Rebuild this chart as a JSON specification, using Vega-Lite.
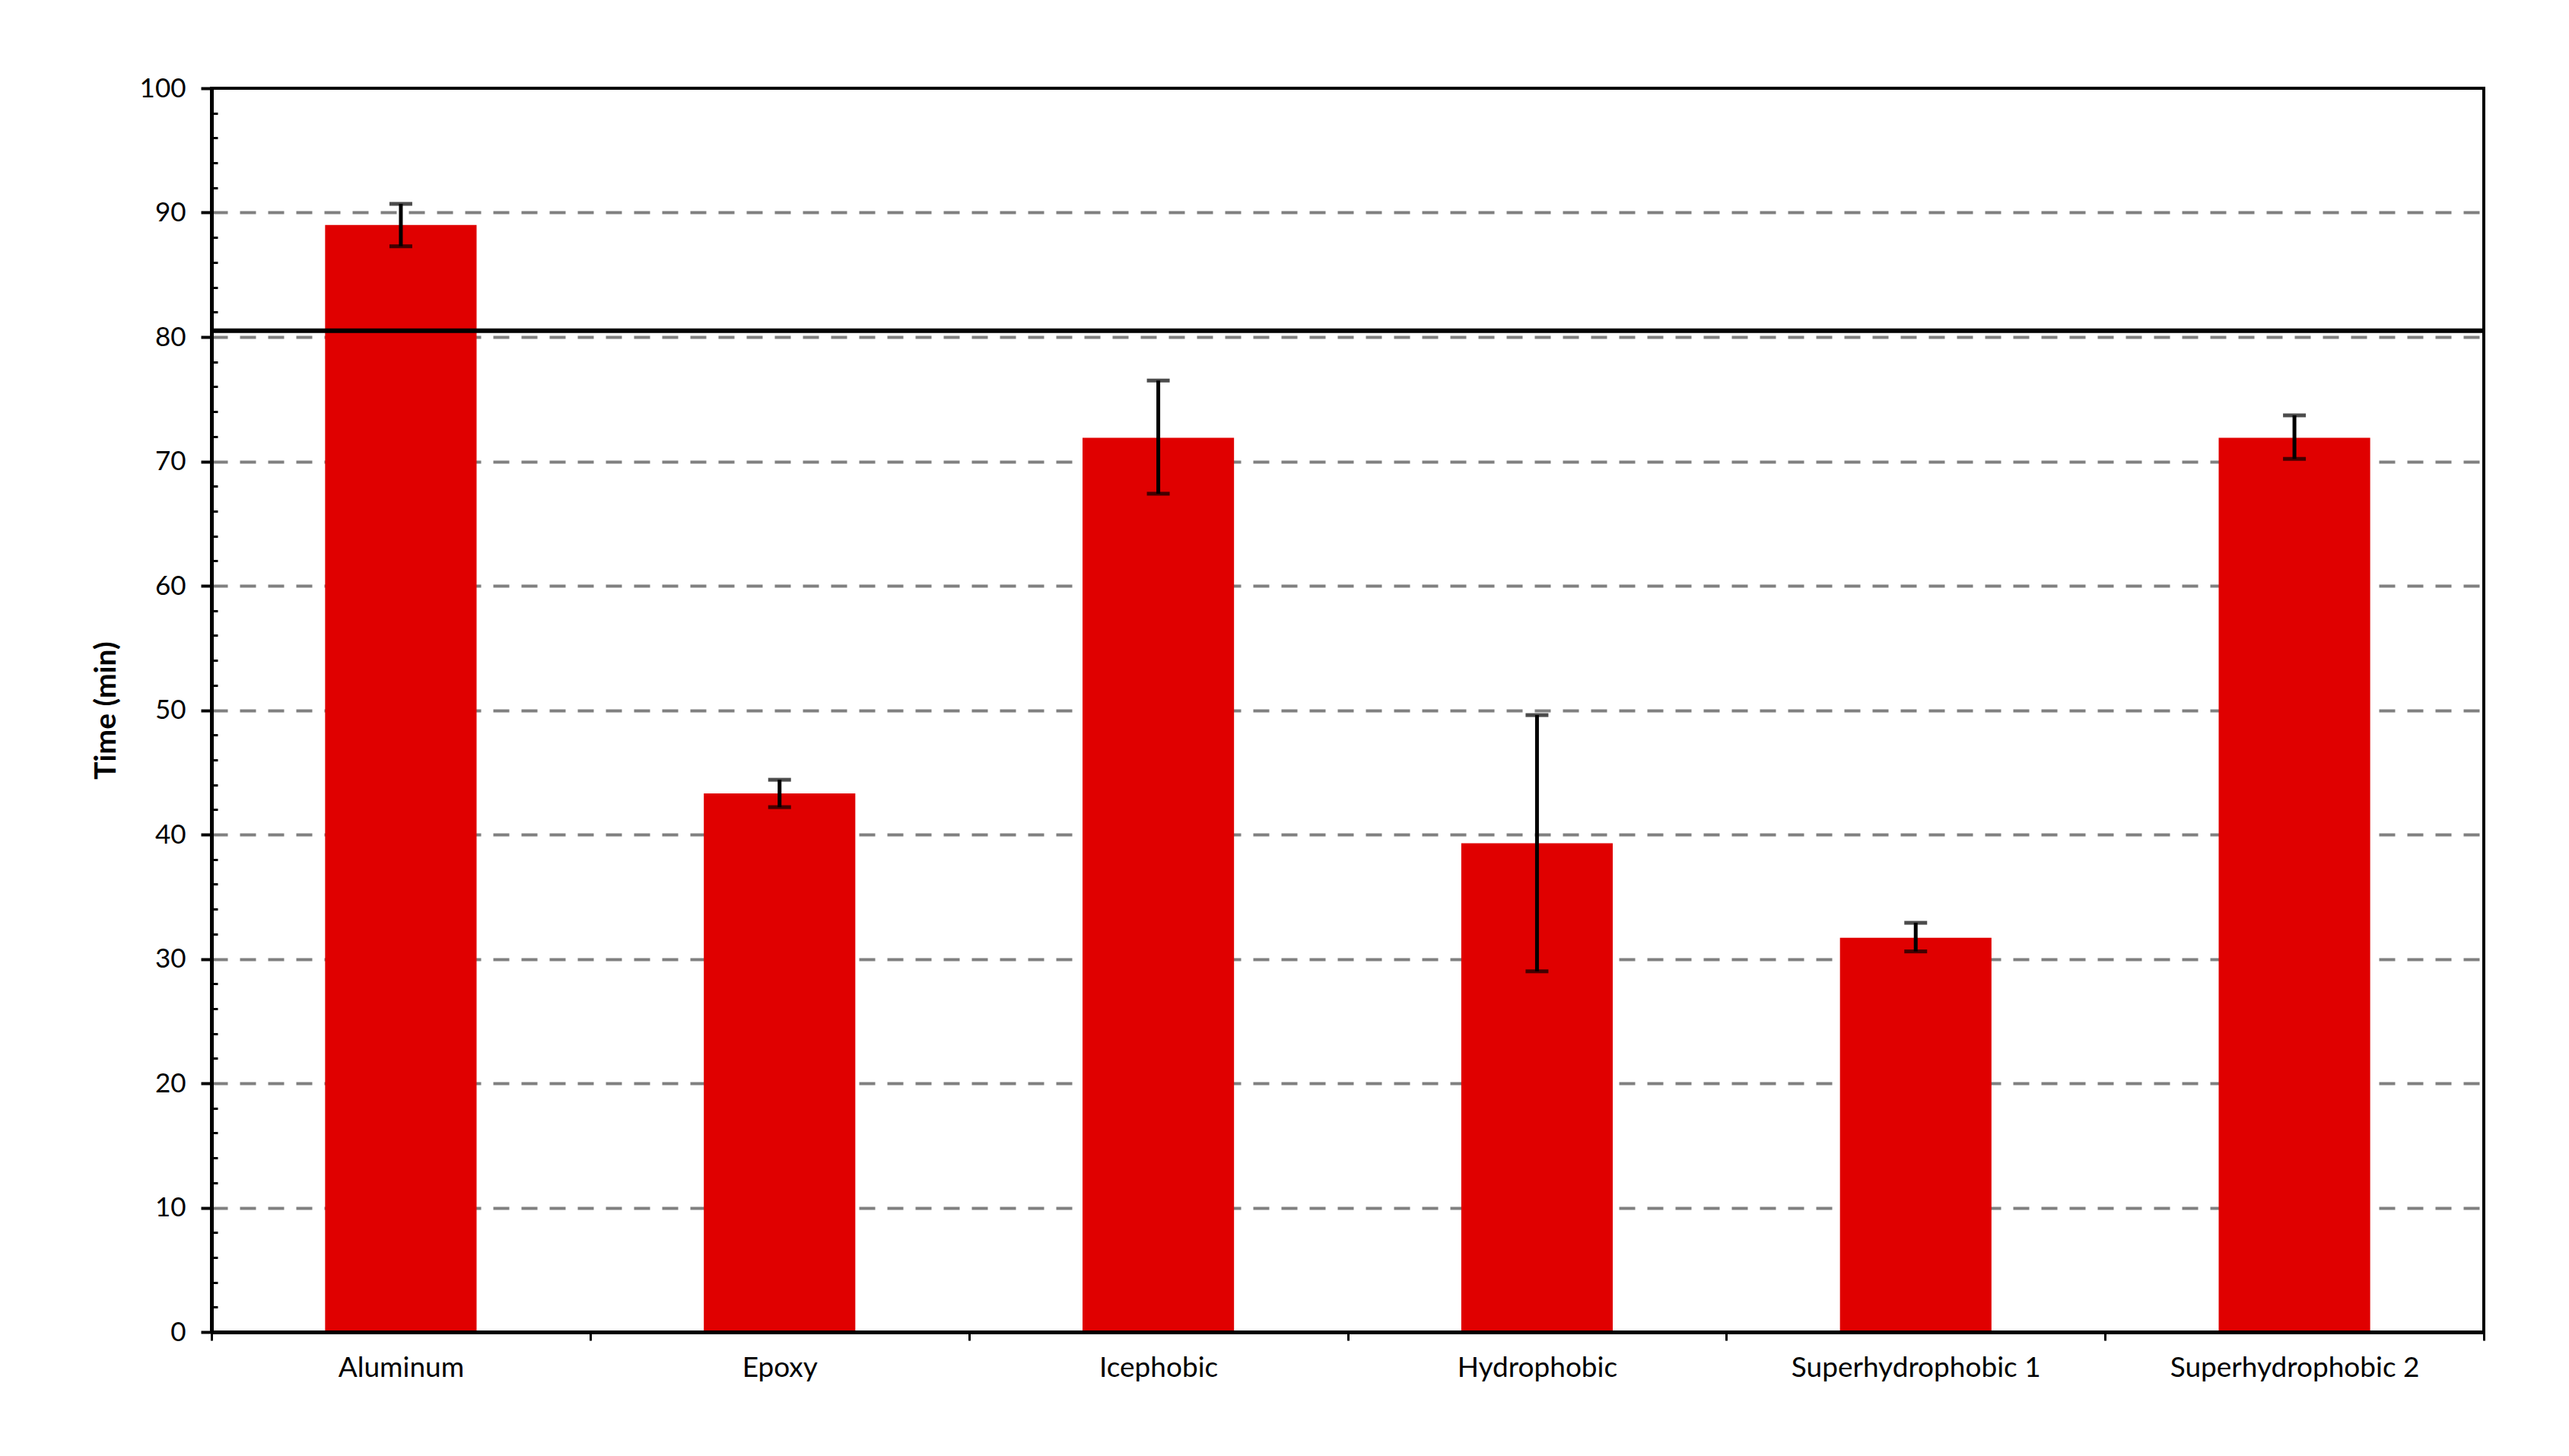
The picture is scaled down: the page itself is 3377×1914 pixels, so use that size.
{
  "$schema": "https://vega.github.io/schema/vega-lite/v6.json",
  "width": 2987,
  "height": 1635,
  "autosize": {"type": "none"},
  "padding": {"left": 278, "top": 116, "right": 112, "bottom": 163},
  "background": "white",
  "config": {
    "view": {"stroke": "#000000", "strokeWidth": 4},
    "font": "Lato",
    "axis": {"labelOverlap": false, "labelLimit": 0},
    "axisY": {"labelOverlap": false, "labelFlush": false}
  },
  "datasets": {
    "bars": [
      {"material": "Aluminum", "time": 89.0, "lo": 87.3, "hi": 90.7},
      {"material": "Epoxy", "time": 43.3, "lo": 42.2, "hi": 44.4},
      {"material": "Icephobic", "time": 71.9, "lo": 67.4, "hi": 76.5},
      {"material": "Hydrophobic", "time": 39.3, "lo": 29.0, "hi": 49.6},
      {"material": "Superhydrophobic 1", "time": 31.7, "lo": 30.6, "hi": 32.9},
      {"material": "Superhydrophobic 2", "time": 71.9, "lo": 70.2, "hi": 73.7}
    ],
    "threshold": [{"limit": 80.5}]
  },
  "layer": [
    {
      "data": {"name": "bars"},
      "mark": {"type": "bar", "color": "#E00000", "width": {"band": 0.4}},
      "encoding": {
        "x": {
          "field": "material", "type": "nominal", "sort": null,
          "scale": {"paddingInner": 0, "paddingOuter": 0},
          "axis": {
            "title": null, "labelAngle": 0, "labelFont": "Lato", "labelFontSize": 37,
            "labelColor": "#000000", "labelPadding": 18, "labelLimit": 0, "labelOverlap": false,
            "domainColor": "#000000", "domainWidth": 5,
            "tickColor": "#000000", "tickWidth": 3, "tickSize": 11, "tickBand": "extent",
            "grid": false, "zindex": 1
          }
        },
        "y": {
          "field": "time", "type": "quantitative",
          "scale": {"domain": [0, 100], "nice": false},
          "axis": {
            "title": "Time (min)", "titleFont": "Lato", "titleFontSize": 39, "titleFontWeight": "bold",
            "titleColor": "#000000", "titlePadding": 24,
            "tickCount": 200,
            "values": [0,2,4,6,8,10,12,14,16,18,20,22,24,26,28,30,32,34,36,38,40,42,44,46,48,50,52,54,56,58,60,62,64,66,68,70,72,74,76,78,80,82,84,86,88,90,92,94,96,98,100],
            "labelExpr": "datum.value % 10 === 0 ? format(datum.value, 'd') : ''",
            "labelFont": "Lato", "labelFontSize": 35, "labelColor": "#000000", "labelPadding": 20,
            "labelOverlap": false, "labelLimit": 0,
            "domainColor": "#000000", "domainWidth": 5,
            "tickColor": "#000000",
            "tickSize": {"condition": {"test": "datum.value % 10 === 0", "value": 14}, "value": -8},
            "tickWidth": {"condition": {"test": "datum.value % 10 === 0", "value": 4}, "value": 3},
            "grid": true, "gridColor": "#808080", "gridWidth": 4, "gridDash": [21, 16],
            "gridOpacity": {"condition": {"test": "datum.value % 10 === 0 && datum.value > 0 && datum.value < 100", "value": 1}, "value": 0}
          }
        }
      }
    },
    {
      "data": {"name": "bars"},
      "mark": {"type": "rule", "color": "#000000", "strokeWidth": 5},
      "encoding": {
        "x": {"field": "material", "type": "nominal", "sort": null},
        "y": {"field": "lo", "type": "quantitative"},
        "y2": {"field": "hi"}
      }
    },
    {
      "data": {"name": "bars"},
      "mark": {"type": "tick", "color": "#000000", "thickness": 5, "size": 30},
      "encoding": {
        "x": {"field": "material", "type": "nominal", "sort": null},
        "y": {"field": "lo", "type": "quantitative"}
      }
    },
    {
      "data": {"name": "bars"},
      "mark": {"type": "tick", "color": "#000000", "thickness": 5, "size": 30},
      "encoding": {
        "x": {"field": "material", "type": "nominal", "sort": null},
        "y": {"field": "hi", "type": "quantitative"}
      }
    },
    {
      "data": {"name": "threshold"},
      "mark": {"type": "rule", "color": "#000000", "strokeWidth": 6},
      "encoding": {
        "y": {"field": "limit", "type": "quantitative"}
      }
    }
  ]
}
